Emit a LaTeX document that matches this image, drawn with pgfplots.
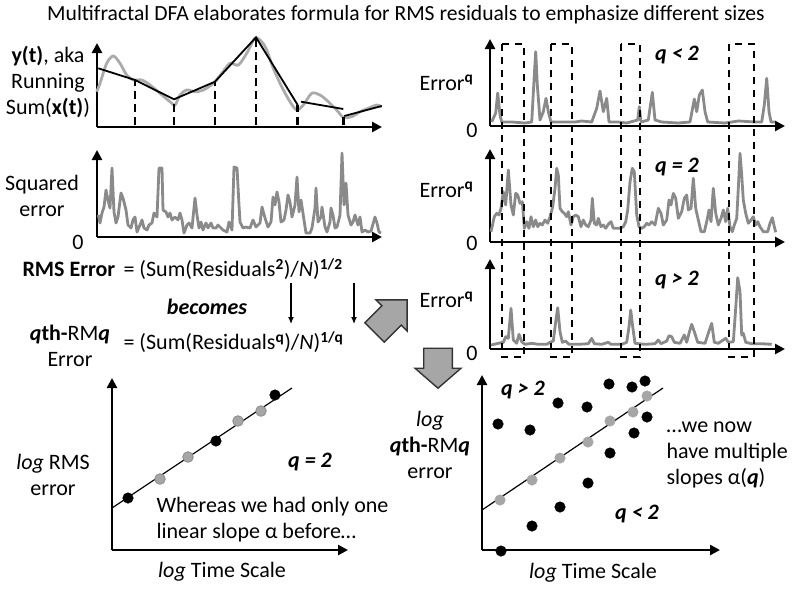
\documentclass[border=0pt]{standalone}
\usepackage{pgfplots}
\pgfplotsset{compat=1.18}
\usepackage{fontspec}
\setmainfont{Carlito}
\usetikzlibrary{arrows.meta,shapes.arrows}
\definecolor{sergray}{HTML}{8A8A8A}
\definecolor{lgray}{HTML}{ABABAB}
\definecolor{ptgray}{HTML}{A6A6A6}
\pgfplotsset{panel/.style={scale only axis, axis lines=left, ticks=none, clip=false, disabledatascaling,
  axis line style={line width=2.6pt, -{Triangle[length=10pt,width=10pt]}}},
  ser/.style={sergray, line width=2.8pt, line join=round, no marks}}
\newcommand{\bq}{\textbf{\textit{q}}}
\begin{document}
\begin{tikzpicture}[x=1pt,y=1pt,font=\fontsize{22}{26}\selectfont]
\useasboundingbox (0,0) rectangle (800,-595);
% Title
\node[font=\fontsize{21.6}{26}\selectfont] at (406,-15) {Multifractal DFA elaborates formula for RMS residuals to emphasize different sizes};

% Panel A: running sum
\begin{axis}[panel, at={(97pt,-127pt)}, anchor=south west, width=285pt, height=84pt,
  xmin=97, xmax=382, ymin=-127, ymax=-43]
\addplot[lgray, line width=2.8pt, smooth, no marks] coordinates {
(96.7,-91.7)(100,-83.3)(106.7,-63.3)(113.3,-56)(120,-63.3)(126.7,-75)(133.3,-80)(141.7,-80)(150,-85)(160,-93.3)(170,-101.7)(175,-105)(180,-95)(186.7,-90)(195,-91.7)(203.3,-90)(213.3,-83.3)(221.7,-73.3)(230,-63.3)(238.3,-65)(246.7,-53.3)(255,-38.3)(261.7,-41.7)(266.7,-50)(273.3,-68.3)(281.7,-86.7)(290,-101.7)(296.7,-110)(303.3,-105)(311.7,-93.3)(320,-95)(328.3,-101.7)(336.7,-110)(343.3,-117.3)(351.7,-116.7)(360,-111.7)(368.3,-108.3)(376.7,-105)(381.7,-106.7)};
\addplot[black, line width=1.8pt, no marks] coordinates {(98.3,-68.3)(135,-80)(174,-99.3)(215,-81.7)(256,-37.3)(297.7,-105)};
\addplot[black, line width=1.8pt, no marks] coordinates {(301,-101.7)(343.3,-109)};
\addplot[black, line width=1.8pt, no marks] coordinates {(344.3,-116)(381.7,-106)};
\addplot[black, line width=2.6pt, dash pattern=on 8pt off 5pt, no marks] coordinates {(135,-125)(135,-80)};
\addplot[black, line width=2.6pt, dash pattern=on 8pt off 5pt, no marks] coordinates {(174,-125)(174,-99.3)};
\addplot[black, line width=2.6pt, dash pattern=on 8pt off 5pt, no marks] coordinates {(215,-125)(215,-81.7)};
\addplot[black, line width=2.6pt, dash pattern=on 8pt off 5pt, no marks] coordinates {(256,-125)(256,-37.3)};
\addplot[black, line width=2.6pt, dash pattern=on 8pt off 5pt, no marks] coordinates {(297.7,-125)(297.7,-105)};
\addplot[black, line width=2.6pt, dash pattern=on 8pt off 5pt, no marks] coordinates {(343.7,-125)(343.7,-116)};
\end{axis}
\node[align=center] at (48,-82) {\textbf{y(t)}, aka\\Running\\Sum(\textbf{x(t)})};

% Panel B: squared error
\begin{axis}[panel, at={(97pt,-237pt)}, anchor=south west, width=285pt, height=87pt,
  xmin=97, xmax=382, ymin=-237, ymax=-150]
\addplot[ser] coordinates {
(98.3,-215)(100,-223)(102,-213)(104,-207)(106,-190)(108,-200)(110,-208)(112,-168)(114,-212)(116,-223)(118,-217)(121,-193)(123,-198)(126,-210)(128,-225)(131,-228)(133,-220)(135,-217)(137,-232)(140,-225)(142,-220)(144,-228)(147,-230)(149,-225)(152,-223)(154,-213)(157,-217)(159,-168)(162,-168)(163,-210)(166,-212)(168,-217)(170,-213)(172,-220)(175,-217)(178,-220)(180,-213)(182,-220)(184,-233)(187,-225)(189,-223)(192,-228)(195,-198)(197,-215)(199,-228)(201,-222)(203,-230)(206,-223)(208,-228)(211,-223)(213,-228)(216,-228)(218,-225)(221,-228)(223,-230)(227,-232)(229,-222)(232,-230)(234,-167)(237,-168)(239,-205)(240,-222)(243,-228)(246,-227)(250,-228)(253,-220)(256,-227)(260,-223)(262,-207)(265,-218)(268,-227)(271,-222)(273,-197)(275,-205)(277,-192)(279,-202)(281,-222)(284,-220)(286,-210)(288,-195)(290,-202)(292,-217)(295,-205)(297,-177)(299,-212)(301,-200)(304,-220)(306,-233)(310,-233)(312,-228)(315,-208)(316,-188)(318,-222)(321,-217)(322,-207)(325,-227)(327,-232)(330,-222)(331,-208)(333,-215)(335,-228)(337,-227)(340,-215)(342,-153)(344,-205)(346,-183)(348,-215)(351,-225)(353,-222)(355,-215)(358,-225)(360,-217)(362,-232)(365,-230)(368,-232)(371,-231)(375,-217)(377,-223)(379,-232)(381,-233)};
\end{axis}
\node[align=center] at (42,-196) {Squared\\error};
\node at (78,-242) {0};

% Formula
\node[anchor=west, font=\fontsize{22}{26}\selectfont\bfseries] at (19,-269) {RMS Error};
\node[anchor=west] at (120,-269) {= (Sum(Residuals\textsuperscript{\textbf{2}})/\textit{N})\textsuperscript{\textbf{1/2}}};
\node[font=\fontsize{22}{26}\selectfont\bfseries\itshape] at (207,-307) {becomes};
\node[align=center] at (70,-346) {\textbf{\textit{q}th-}RM\bq\\Error};
\node[anchor=west] at (120,-342) {= (Sum(Residuals\textsuperscript{\textbf{q}})/\textit{N})\textsuperscript{\textbf{1/q}}};
\draw[line width=1.3pt, -{Latex[length=7pt,width=6pt]}] (291,-283) -- (291,-324);
\draw[line width=1.3pt, -{Latex[length=7pt,width=6pt]}] (354,-283) -- (354,-324);
\node[single arrow, draw=black!80, fill=ptgray, line width=1.4pt, inner xsep=0pt, inner ysep=11pt, minimum width=44pt, minimum height=46pt, single arrow tip angle=90, rotate=45] at (386,-321) {};
\node[single arrow, draw=black!80, fill=ptgray, line width=1.4pt, inner xsep=0pt, inner ysep=11pt, minimum width=46pt, minimum height=40pt, single arrow tip angle=98, rotate=-90] at (438,-362) {};

% Panel C1
\begin{axis}[panel, at={(490pt,-126pt)}, anchor=south west, width=295pt, height=87pt,
  xmin=490, xmax=785, ymin=-126, ymax=-39]
\addplot[ser] coordinates {
(491.7,-122)(495.7,-113)(497.7,-93)(500,-115)(501.7,-122)(511.7,-122)(525,-123)(531.7,-122)(534.3,-75)(535.7,-51.7)(537.3,-85)(540,-120)(543.3,-111.7)(546,-98.3)(548.3,-111.7)(551,-122)(561.7,-122)(575,-122)(581.7,-121)(591.7,-122)(596.7,-108.3)(600,-91)(603.3,-111.7)(606.7,-98.3)(609,-122)(618.3,-122)(626.7,-123)(637.7,-120)(639.3,-106.7)(641,-122)(648.3,-120)(652.3,-92.3)(655,-120)(661.7,-122)(678.3,-123)(690,-122)(694.3,-99)(696.7,-111.7)(699.3,-95)(702.3,-90)(705,-111.7)(707.7,-122)(725,-123)(738.3,-121)(755,-122)(761.7,-122)(764.3,-105)(766.7,-78.3)(769,-111.7)(771,-122)(775,-122)};
\end{axis}
% Panel C2
\begin{axis}[panel, at={(490pt,-242pt)}, anchor=south west, width=295pt, height=93pt,
  xmin=490, xmax=785, ymin=-242, ymax=-149]
\addplot[ser] coordinates {
(491,-231.7)(494.3,-216.7)(496.7,-213.3)(499,-215)(501,-208.3)(503.3,-191.7)(505.7,-205)(508.3,-170)(511,-205)(513.3,-215)(515.7,-193.3)(517.7,-195)(520,-203.3)(522.3,-201.7)(524.3,-228.3)(526.7,-221.7)(529,-228.3)(531,-216.7)(533.3,-226.7)(535.7,-220)(537.7,-226.7)(540,-223.3)(542.3,-225)(545,-220)(547.7,-223.3)(550,-216.7)(552.7,-206.7)(555,-188.3)(556.7,-168.3)(558.3,-175)(560,-208.3)(562.3,-211.7)(564.3,-213.3)(566.7,-216.7)(568.3,-211.7)(571,-225)(573.3,-216.7)(575.7,-215)(578.3,-216.7)(581,-226.7)(583.3,-220)(585.7,-225)(588.3,-226.7)(591,-220)(592.3,-198.3)(594.3,-223.3)(596.7,-225)(598.3,-218.3)(601,-226.7)(603.3,-225)(605.7,-228.3)(608.3,-224.3)(611,-221.7)(613.3,-228.3)(616.7,-228.3)(620,-228.3)(623.3,-226.7)(625.7,-221.7)(627.7,-210)(630,-181.7)(632.3,-168.3)(634.3,-171.7)(636.7,-215)(639,-226.7)(641.7,-228.3)(644.3,-226.7)(646.7,-223.3)(649,-225)(651.7,-221.7)(655,-225)(658.3,-208.3)(661,-213.3)(663.3,-225)(666.7,-220)(669,-200)(671,-205)(673.3,-193.3)(675.7,-198.3)(678.3,-218.3)(681.7,-211.7)(684.3,-198.3)(686.7,-195)(688.3,-210)(691,-208.3)(693.3,-178.3)(695.7,-208.3)(698.3,-220)(701,-231.7)(704.3,-231.7)(706.7,-221.7)(709,-210)(711,-221.7)(713.3,-188.3)(715.7,-213.3)(718.3,-225)(721,-218.3)(723.3,-210)(725.7,-221.7)(727.7,-208.3)(730,-226.7)(732.3,-231.7)(734.3,-225)(736.7,-218.3)(738.3,-188.3)(740,-153.3)(741.7,-175)(743.3,-200)(745.7,-213.3)(748.3,-223.3)(751,-220)(753.3,-216.7)(755.7,-225)(757.7,-221.7)(760,-226.7)(763.3,-231.7)(767.7,-231.7)(770,-223.3)(772.3,-217.7)(774.3,-226.7)(775.7,-232.3)};
\end{axis}
% Panel C3
\begin{axis}[panel, at={(490pt,-349pt)}, anchor=south west, width=295pt, height=90pt,
  xmin=490, xmax=785, ymin=-349, ymax=-259]
\addplot[ser] coordinates {
(491,-345)(498.3,-343.3)(503.3,-342.3)(505.7,-336.7)(508.3,-338.3)(511,-308.3)(513.3,-340)(516.7,-343.3)(519,-334.3)(521.7,-341.7)(525,-344.3)(531.7,-343.3)(538.3,-344.3)(546.7,-344.3)(550,-342.3)(553.3,-341)(555.7,-321.7)(557.7,-307.7)(560,-331.7)(562.3,-342.3)(565.7,-341)(569,-344.3)(578.3,-344.3)(588.3,-343.7)(591.7,-338.3)(594.3,-343.7)(601.7,-344.3)(608.3,-342.3)(611,-344.3)(621.7,-344.3)(626.7,-342.3)(629,-326.7)(630.7,-310)(632.7,-326.7)(635,-343.3)(645,-344.3)(655,-343.7)(658.3,-340)(661,-343.7)(666.7,-341)(669,-335.7)(671.7,-336.7)(674.3,-342.3)(680,-343.3)(684.3,-335)(686.7,-342.3)(689,-333.3)(691.7,-324.3)(694.3,-331.7)(697.7,-342.3)(705,-343.3)(709,-331)(711.7,-323.3)(714.3,-342.3)(718.3,-343.3)(725.7,-338.3)(728.3,-342.3)(733.3,-341.7)(735.7,-308.3)(737.7,-277.7)(740,-291.7)(741.7,-335)(743.3,-333.3)(745.7,-342.3)(751.7,-343.7)(761.7,-343.7)(771.7,-344.3)};
\end{axis}
% dashed windows
\foreach \a/\b in {502/524,551/572,621/640,729/754}
  \draw[black, line width=1.9pt, dash pattern=on 7pt off 6pt] (\a,-44) rectangle (\b,-357);
% C labels
\foreach \yy in {83,190,300} \node[anchor=west] at (416,-\yy) {Error\textsuperscript{\textbf{q}}};
\node at (472,-130) {0};
\node at (472,-243) {0};
\node at (472,-353) {0};
\node at (677,-55) {\bq\ \textbf{\textit{<}} \textbf{\textit{2}}};
\node at (677,-167) {\bq\ \textbf{\textit{=}} \textbf{\textit{2}}};
\node at (677,-280) {\bq\ \textbf{\textit{>}} \textbf{\textit{2}}};

% Panel D
\begin{axis}[panel, at={(112pt,-550pt)}, anchor=south west, width=236pt, height=172pt,
  xmin=112, xmax=348, ymin=-550, ymax=-378]
\addplot[black, line width=1.2pt, no marks] coordinates {(112,-508)(292,-388)};
\addplot[only marks, mark=*, mark size=5.3pt, mark options={fill=ptgray, draw=sergray, line width=0.8pt}] coordinates {(160,-479)(188,-457)(238,-421)(261,-411)};
\addplot[only marks, mark=*, mark size=5.3pt, black] coordinates {(128,-498)(216,-441)(275,-395)};
\end{axis}
\node[align=center] at (53,-475) {\textit{log} RMS\\error};
\node at (310,-462) {\bq\ \textbf{\textit{= 2}}};
\node[anchor=west, align=left] at (153,-520) {Whereas we had only one\\linear slope α before…};
\node at (222,-572) {\textit{log} Time Scale};

% Panel E
\begin{axis}[panel, at={(482pt,-550pt)}, anchor=south west, width=238pt, height=175pt,
  xmin=482, xmax=720, ymin=-550, ymax=-375]
\addplot[black, line width=1.2pt, no marks] coordinates {(482,-510)(663,-388)};
\addplot[only marks, mark=*, mark size=5.3pt, mark options={fill=ptgray, draw=ptgray}] coordinates {(500,-500)(532,-480)(560,-458)(588,-442)(610,-421)(633,-412)(647,-396)};
\addplot[only marks, mark=*, mark size=5.3pt, black] coordinates {(498,-424)(530,-430)(558,-403)(587,-407)(609,-384)(632,-387)(645,-381)(647,-417)(634,-433)(610,-453)(588,-483)(560,-507)(532,-526)(501,-551)};
\end{axis}
\node[align=center] at (430,-445) {\textit{log}\\\textbf{\textit{q}th-}RM\bq\\error};
\node at (523,-390) {\bq\ \textbf{\textit{> 2}}};
\node at (637,-514) {\bq\ \textbf{\textit{< 2}}};
\node[anchor=west, align=left] at (663,-455) {…we now\\have multiple\\slopes α(\bq)};
\node at (593,-573) {\textit{log} Time Scale};
\end{tikzpicture}
\end{document}
